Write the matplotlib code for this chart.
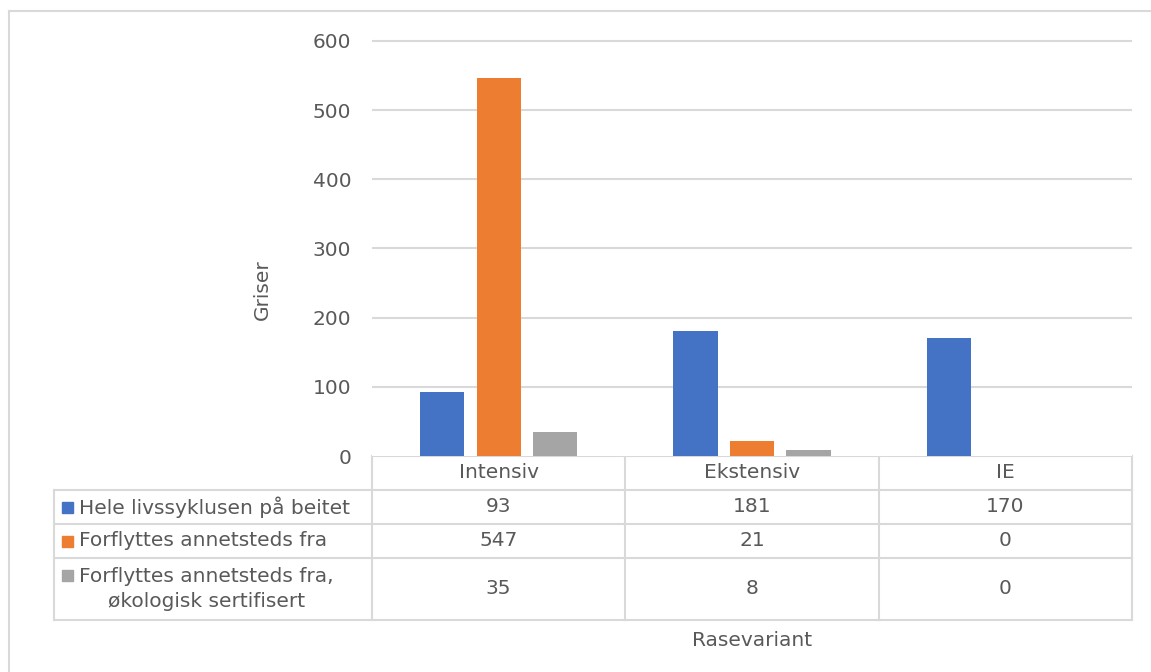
import matplotlib
matplotlib.use("Agg")
import matplotlib.pyplot as plt
import numpy as np

categories = ["Intensiv", "Ekstensiv", "IE"]
series_names = ["Hele livssyklusen på beitet",
                "Forflyttes annetsteds fra",
                "Forflyttes annetsteds fra,\nøkologisk sertifisert"]
hele = [93, 181, 170]
forflyttes = [547, 21, 0]
okologisk = [35, 8, 0]
yticks = [0, 100, 200, 300, 400, 500, 600]

colors = ["#4472C4", "#ED7D31", "#A5A5A5"]
text_color = "#595959"
grid_color = "#D9D9D9"
fs = 14.5

W, H = 1151, 672
plt.rcParams['font.family'] = ['DejaVu Sans']
fig = plt.figure(figsize=(W / 100, H / 100), dpi=100)

# pixel overlay axes
pax = fig.add_axes([0, 0, 1, 1])
pax.set_xlim(0, W)
pax.set_ylim(H, 0)
pax.axis("off")

x0, x1, y_top, y_bot = 372, 1132, 41, 456
ax = fig.add_axes([x0 / W, 1 - y_bot / H, (x1 - x0) / W, (y_bot - y_top) / H])
ax.set_xlim(0, len(categories))
ax.set_ylim(0, 600)
ax.set_yticks(yticks)
ax.set_yticklabels([str(v) for v in yticks], fontsize=fs, color=text_color)
ax.tick_params(axis="y", length=0, pad=15)
ax.set_xticks([])
for s in ax.spines.values():
    s.set_visible(False)
ax.hlines(yticks[1:], 0, len(categories), color=grid_color, linewidth=1.5,
          clip_on=False, zorder=1)

data = [hele, forflyttes, okologisk]
centers = np.arange(len(categories)) + 0.5
bw = 0.174
step = 0.223
for i, (vals, c) in enumerate(zip(data, colors)):
    ax.bar(centers + (i - 1) * step, vals, width=bw, color=c, zorder=3)

pax.text(262, 290, "Griser", rotation=90, ha="center", va="center",
         fontsize=fs, color=text_color)

# chart border (top & left visible)
pax.plot([9, W], [11, 11], color=grid_color, lw=1.5)
pax.plot([9, 9], [11, H], color=grid_color, lw=1.5)

# data table
col_edges = [x0 + (x1 - x0) * k / len(categories) for k in range(len(categories) + 1)]
row_edges = [456, 490, 524, 558, 620]
left = 54
lc = grid_color
lw = 1.5
pax.plot([x0, x1], [row_edges[0], row_edges[0]], color=lc, lw=lw)
for r in row_edges[1:]:
    pax.plot([left, x1], [r, r], color=lc, lw=lw)
for cx in col_edges:
    pax.plot([cx, cx], [row_edges[0], row_edges[-1]], color=lc, lw=lw)
pax.plot([left, left], [row_edges[1], row_edges[-1]], color=lc, lw=lw)

for j, cat in enumerate(categories):
    cx = (col_edges[j] + col_edges[j + 1]) / 2
    pax.text(cx, (row_edges[0] + row_edges[1]) / 2, cat, ha="center", va="center",
             fontsize=fs, color=text_color)
for i, (name, vals, c) in enumerate(zip(series_names, data, colors)):
    ry = (row_edges[i + 1] + row_edges[i + 2]) / 2
    pax.add_patch(plt.Rectangle((62, ry - 5 if i < 2 else ry - 19), 11, 11, color=c))
    pax.text(79, ry, name, ha="left", va="center", multialignment="center",
             fontsize=fs, color=text_color, linespacing=1.4)
    for j, v in enumerate(vals):
        cx = (col_edges[j] + col_edges[j + 1]) / 2
        pax.text(cx, ry, str(v), ha="center", va="center", fontsize=fs, color=text_color)

pax.text((x0 + x1) / 2, 641, "Rasevariant", ha="center", va="center",
         fontsize=fs, color=text_color)

fig.savefig("out.png", dpi=100)
